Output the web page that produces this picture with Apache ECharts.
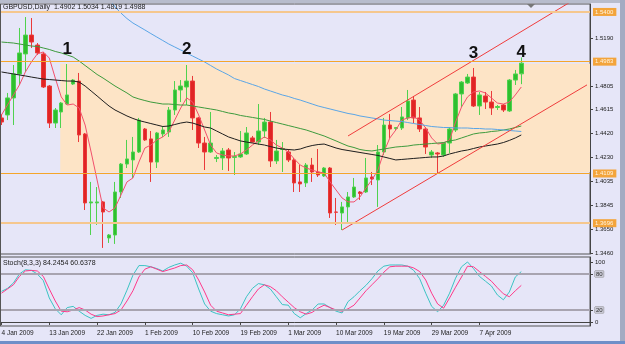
<!DOCTYPE html>
<html>
<head>
<meta charset="utf-8">
<script src="https://cdn.jsdelivr.net/npm/echarts@6/dist/echarts.min.js"></script>
<style>
html, body { margin: 0; padding: 0; background: #e6e6f8; }
#chart { width: 625px; height: 344px; }
</style>
</head>
<body>
<div id="chart"></div>
<script>
// GBPUSD daily, 4 Jan - 15 Apr 2009
var dates = ['4 Jan 2009','5 Jan 2009','6 Jan 2009','7 Jan 2009','8 Jan 2009','9 Jan 2009','11 Jan 2009','12 Jan 2009',
  '13 Jan 2009','14 Jan 2009','15 Jan 2009','16 Jan 2009','18 Jan 2009','19 Jan 2009','20 Jan 2009','21 Jan 2009',
  '22 Jan 2009','23 Jan 2009','25 Jan 2009','26 Jan 2009','27 Jan 2009','28 Jan 2009','29 Jan 2009','30 Jan 2009',
  '1 Feb 2009','2 Feb 2009','3 Feb 2009','4 Feb 2009','5 Feb 2009','6 Feb 2009','8 Feb 2009','9 Feb 2009',
  '10 Feb 2009','11 Feb 2009','12 Feb 2009','13 Feb 2009','15 Feb 2009','16 Feb 2009','17 Feb 2009','18 Feb 2009',
  '19 Feb 2009','20 Feb 2009','22 Feb 2009','23 Feb 2009','24 Feb 2009','25 Feb 2009','26 Feb 2009','27 Feb 2009',
  '1 Mar 2009','2 Mar 2009','3 Mar 2009','4 Mar 2009','5 Mar 2009','6 Mar 2009','8 Mar 2009','9 Mar 2009',
  '10 Mar 2009','11 Mar 2009','12 Mar 2009','13 Mar 2009','15 Mar 2009','16 Mar 2009','17 Mar 2009','18 Mar 2009',
  '19 Mar 2009','20 Mar 2009','22 Mar 2009','23 Mar 2009','24 Mar 2009','25 Mar 2009','26 Mar 2009','27 Mar 2009',
  '29 Mar 2009','30 Mar 2009','31 Mar 2009','1 Apr 2009','2 Apr 2009','3 Apr 2009','5 Apr 2009','6 Apr 2009',
  '7 Apr 2009','8 Apr 2009','9 Apr 2009','10 Apr 2009','12 Apr 2009','13 Apr 2009','14 Apr 2009','15 Apr 2009'];

var opens = [1.4547,1.4571,1.4708,1.4901,1.5062,1.5214,1.5134,1.5062,1.4804,1.4506,
  1.4595,1.4659,1.4820,1.4844,1.4418,1.3863,1.3863,1.3871,1.3581,1.3605,
  1.3951,1.4176,1.4209,1.4273,1.4458,1.4378,1.4192,1.4418,1.4434,1.4611,
  1.4772,1.4796,1.4844,1.4547,1.4345,1.4273,1.4221,1.4225,1.4289,1.4229,
  1.4233,1.4257,1.4386,1.4353,1.4442,1.4514,1.4201,1.4293,1.4273,1.4209,
  1.4032,1.4024,1.4168,1.4112,1.4080,1.4144,1.3790,1.3782,1.3831,1.3911,
  1.3951,1.3951,1.4072,1.4048,1.4273,1.4490,1.4462,1.4466,1.4547,1.4691,
  1.4547,1.4458,1.4249,1.4265,1.4249,1.4345,1.4450,1.4740,1.4828,1.4876,
  1.4643,1.4724,1.4675,1.4631,1.4651,1.4603,1.4852,1.4902];
var highs = [1.4579,1.4748,1.4973,1.5271,1.5359,1.5351,1.5150,1.5078,1.4812,1.4627,
  1.4675,1.4981,1.4860,1.4909,1.4426,1.4032,1.3991,1.3879,1.3613,1.4032,
  1.4184,1.4370,1.4394,1.4547,1.4466,1.4442,1.4434,1.4482,1.4635,1.4844,
  1.4852,1.4973,1.4885,1.4555,1.4394,1.4595,1.4249,1.4305,1.4305,1.4273,
  1.4442,1.4474,1.4402,1.4659,1.4547,1.4595,1.4370,1.4353,1.4297,1.4225,
  1.4168,1.4184,1.4225,1.4297,1.4152,1.4152,1.3903,1.3871,1.3951,1.4064,
  1.3959,1.4225,1.4112,1.4329,1.4547,1.4579,1.4474,1.4635,1.4772,1.4724,
  1.4635,1.4474,1.4289,1.4273,1.4353,1.4474,1.4748,1.4844,1.4901,1.4949,
  1.4756,1.4756,1.4764,1.4651,1.4659,1.4860,1.4933,1.5034];
var lows = [1.4490,1.4530,1.4490,1.4812,1.4917,1.5110,1.5054,1.4788,1.4466,1.4466,
  1.4466,1.4651,1.4812,1.4353,1.3806,1.3605,1.3686,1.3501,1.3541,1.3533,
  1.3903,1.4144,1.4064,1.4265,1.4362,1.4032,1.4144,1.4394,1.4394,1.4571,
  1.4675,1.4651,1.4450,1.4305,1.4128,1.4265,1.4192,1.4128,1.4120,1.4088,
  1.4225,1.4249,1.4349,1.4329,1.4386,1.4152,1.4176,1.4112,1.4192,1.3951,
  1.3951,1.3991,1.4032,1.4072,1.4072,1.3742,1.3686,1.3645,1.3702,1.3903,
  1.3887,1.3943,1.4007,1.3831,1.4249,1.4386,1.4450,1.4450,1.4530,1.4506,
  1.4434,1.4257,1.4225,1.4104,1.4233,1.4265,1.4434,1.4635,1.4820,1.4635,
  1.4571,1.4619,1.4571,1.4611,1.4595,1.4595,1.4812,1.4819];
var closes = [1.4514,1.4708,1.4901,1.5070,1.5214,1.5158,1.5070,1.4796,1.4506,1.4611,
  1.4667,1.4732,1.4852,1.4410,1.3863,1.3871,1.3871,1.3790,1.3605,1.3951,
  1.4176,1.4217,1.4273,1.4530,1.4370,1.4192,1.4426,1.4450,1.4611,1.4772,
  1.4804,1.4844,1.4547,1.4345,1.4273,1.4345,1.4229,1.4281,1.4225,1.4237,
  1.4257,1.4426,1.4353,1.4442,1.4514,1.4201,1.4281,1.4301,1.4209,1.4024,
  1.4016,1.4168,1.4112,1.4088,1.4144,1.3782,1.3788,1.3831,1.3911,1.3991,
  1.3939,1.4064,1.4056,1.4273,1.4490,1.4458,1.4470,1.4555,1.4683,1.4547,
  1.4458,1.4313,1.4273,1.4257,1.4345,1.4458,1.4740,1.4836,1.4876,1.4643,
  1.4732,1.4675,1.4627,1.4639,1.4611,1.4852,1.4901,1.4988];

// moving averages as drawn on the chart
var maFast = [1.4571,1.4651,1.4732,1.4812,1.4917,1.4997,1.5062,1.5078,1.5029,1.4868,
  1.4716,1.4651,1.4659,1.4627,1.4490,1.4273,1.4048,1.3823,1.3790,1.3823,
  1.3927,1.4032,1.4064,1.4192,1.4305,1.4329,1.4370,1.4394,1.4434,1.4530,
  1.4627,1.4708,1.4675,1.4571,1.4450,1.4329,1.4265,1.4249,1.4241,1.4241,
  1.4257,1.4289,1.4329,1.4362,1.4394,1.4370,1.4329,1.4305,1.4273,1.4217,
  1.4168,1.4144,1.4128,1.4112,1.4104,1.4032,1.3967,1.3903,1.3871,1.3871,
  1.3911,1.3983,1.4048,1.4128,1.4273,1.4386,1.4450,1.4530,1.4547,1.4555,
  1.4530,1.4466,1.4386,1.4337,1.4345,1.4370,1.4514,1.4635,1.4716,1.4756,
  1.4764,1.4748,1.4708,1.4667,1.4659,1.4675,1.4732,1.4796];
var maMid = [1.5158,1.5154,1.5150,1.5142,1.5134,1.5126,1.5122,1.5110,1.5098,1.5082,
  1.5070,1.5054,1.5037,1.5005,1.4969,1.4933,1.4897,1.4868,1.4836,1.4804,
  1.4776,1.4748,1.4716,1.4700,1.4687,1.4675,1.4667,1.4659,1.4659,1.4655,
  1.4651,1.4651,1.4643,1.4635,1.4627,1.4619,1.4611,1.4599,1.4587,1.4579,
  1.4567,1.4559,1.4551,1.4543,1.4535,1.4522,1.4510,1.4498,1.4486,1.4474,
  1.4462,1.4450,1.4434,1.4418,1.4402,1.4382,1.4362,1.4341,1.4321,1.4309,
  1.4293,1.4285,1.4281,1.4289,1.4297,1.4305,1.4313,1.4317,1.4321,1.4329,
  1.4333,1.4337,1.4341,1.4345,1.4349,1.4362,1.4370,1.4386,1.4402,1.4418,
  1.4426,1.4430,1.4438,1.4442,1.4450,1.4458,1.4470,1.4482];
var maSlow = [1.4917,1.4909,1.4901,1.4893,1.4885,1.4876,1.4868,1.4860,1.4856,1.4852,
  1.4848,1.4844,1.4844,1.4836,1.4804,1.4764,1.4724,1.4683,1.4643,1.4611,
  1.4587,1.4563,1.4543,1.4526,1.4514,1.4502,1.4490,1.4478,1.4482,1.4494,
  1.4506,1.4514,1.4506,1.4490,1.4474,1.4466,1.4442,1.4418,1.4394,1.4378,
  1.4362,1.4353,1.4345,1.4337,1.4329,1.4317,1.4305,1.4297,1.4293,1.4289,
  1.4297,1.4313,1.4325,1.4333,1.4337,1.4321,1.4305,1.4293,1.4285,1.4277,
  1.4269,1.4261,1.4253,1.4245,1.4233,1.4221,1.4209,1.4213,1.4217,1.4221,
  1.4225,1.4229,1.4233,1.4233,1.4241,1.4257,1.4269,1.4281,1.4289,1.4301,
  1.4313,1.4321,1.4329,1.4337,1.4349,1.4366,1.4386,1.4410];
var maLong = [null,null,null,null,null,null,null,null,null,null,
  null,null,null,null,null,null,null,1.5544,1.5504,1.5440,
  1.5391,1.5347,1.5311,1.5283,1.5255,1.5226,1.5198,1.5170,1.5142,1.5118,
  1.5094,1.5070,1.5045,1.5021,1.4997,1.4969,1.4941,1.4917,1.4893,1.4864,
  1.4848,1.4832,1.4816,1.4800,1.4780,1.4764,1.4748,1.4732,1.4720,1.4704,
  1.4691,1.4675,1.4659,1.4643,1.4631,1.4619,1.4607,1.4595,1.4583,1.4575,
  1.4563,1.4555,1.4547,1.4539,1.4530,1.4526,1.4522,1.4518,1.4510,1.4502,
  1.4494,1.4486,1.4478,1.4474,1.4470,1.4470,1.4466,1.4466,1.4466,1.4462,
  1.4462,1.4458,1.4458,1.4454,1.4450,1.4446,1.4442,1.4438];

// Stochastic(8,3,3)
var stochK = [51,56,65,80,87,86,80,69,40,22, 12,24,26,18,11,6,11,13,12,16,
  30,53,78,94,94,92,89,85,91,95, 98,93,82,55,30,18,14,12,10,12,
  22,42,56,64,62,55,42,29,28,14, 7,14,20,30,30,24,18,15,34,42,
  52,61,72,85,93,95,95,95,93,86, 72,48,26,17,28,48,73,92,100,89,
  76,68,60,45,37,50,75,84];
var stochD = [48,55,62,76,85,86,85,76,55,35, 18,17,20,24,20,13,9,10,12,14,
  20,35,52,75,88,92,88,84,87,90, 94,95,87,70,50,28,18,15,12,13,
  14,28,42,55,62,59,52,42,33,24, 17,13,16,23,28,24,20,18,22,28,
  40,52,62,72,83,92,93,93,93,90, 84,70,48,30,23,40,58,75,93,92,
  84,76,68,57,47,42,52,61];

var priceTicks = [1.5190, 1.4805, 1.4615, 1.4420, 1.4230, 1.4035, 1.3845, 1.3650, 1.3460];
var stochTicks = [0, 20, 80, 100];
var stochLevels = [20, 80];
var majorLevels = [1.5400, 1.3696];
var zoneLevels = [1.4983, 1.4109];
var zoneStart = 10;
var channelUpper = [[58, 1.4402], [96, 1.5503]];
var channelLower = [[57, 1.3645], [98, 1.4813]];
var waveLabels = [['1', 11, 1.5102], ['2', 31, 1.5102], ['3', 79, 1.5070], ['4', 87, 1.5078]];

var N = 99; // bars + empty space on the right
var cats = dates.slice();
while (cats.length < N) cats.push('');

function sparse(points) {
  var r = [];
  for (var i = 0; i < N; i++) r.push(null);
  points.forEach(function (p) { r[p[0]] = p[1]; });
  return r;
}

var candles = opens.map(function (o, i) { return [o, closes[i], lows[i], highs[i]]; });
var last = opens.length - 1;

var font = '"Liberation Sans", Arial, sans-serif';
var levelLabel = {
  show: true, position: 'end', distance: 3,
  formatter: '{b}',
  backgroundColor: '#f3a43b', color: '#fff4e0', fontSize: 6, fontFamily: font,
  padding: [1, 3, 1, 2]
};

var chart = echarts.init(document.getElementById('chart'));
var option = {
  backgroundColor: '#e6e6f8',
  animation: false,
  grid: [
    { left: -1.5, top: 4, width: 591.5, height: 250, show: true, borderColor: '#555', borderWidth: 1, containLabel: false, outerBoundsMode: 'none' },
    { left: -1.5, top: 257, width: 591.5, height: 69, show: true, borderColor: '#555', borderWidth: 1, containLabel: false, outerBoundsMode: 'none' }
  ],
  xAxis: [
    { type: 'category', gridIndex: 0, data: cats, boundaryGap: true,
      axisLine: { show: false }, axisTick: { show: false }, axisLabel: { show: false }, splitLine: { show: false } },
    { type: 'category', gridIndex: 1, data: cats, boundaryGap: true,
      axisLine: { show: true, lineStyle: { color: '#444' } },
      axisTick: { show: true, length: 3, alignWithLabel: true, lineStyle: { color: '#444' },
        interval: function (i) { return i % 8 === 0 && i < dates.length; } },
      axisLabel: { show: true, align: 'left', margin: 4, fontSize: 6.5, fontFamily: font, color: '#1a1a1a',
        interval: function (i) { return i % 8 === 0 && i < dates.length; } },
      splitLine: { show: false } }
  ],
  yAxis: [
    { type: 'value', gridIndex: 0, position: 'right', min: 1.3452, max: 1.5464, scale: true,
      splitLine: { show: false },
      axisLine: { show: true, lineStyle: { color: '#444' } },
      axisTick: { show: true, length: 3, lineStyle: { color: '#444' }, customValues: priceTicks },
      axisLabel: { show: true, customValues: priceTicks, margin: 5, fontSize: 6, fontFamily: font, color: '#1a1a1a',
        formatter: function (v) { return v.toFixed(4); } } },
    { type: 'value', gridIndex: 1, position: 'right', min: -6.7, max: 108.3,
      splitLine: { show: false },
      axisLine: { show: true, lineStyle: { color: '#444' } },
      axisTick: { show: true, length: 3, lineStyle: { color: '#444' }, customValues: stochTicks },
      axisLabel: { show: true, customValues: stochTicks, margin: 5, fontSize: 6, fontFamily: font, color: '#1a1a1a',
        formatter: function (v) { return (v === 20 || v === 80) ? '{box|' + v + '}' : String(v); },
        rich: { box: { fontSize: 6, fontFamily: font, color: '#333', backgroundColor: '#c8c8d4', borderColor: '#888', borderWidth: 0.5, padding: [0, 1] } } } }
  ],
  series: [
    {
      type: 'candlestick', name: 'GBPUSD', xAxisIndex: 0, yAxisIndex: 0, data: candles, barWidth: 4,
      itemStyle: { color: '#2fbf2f', color0: '#e02424', borderColor: '#4fd24f', borderColor0: '#ea3a3a', borderWidth: 1 },
      markLine: {
        silent: true, symbol: 'none', animation: false,
        data: majorLevels.map(function (v) {
          return { name: v.toFixed(4), yAxis: v, lineStyle: { color: '#f5c78e', width: 2, type: 'solid' }, label: levelLabel };
        }).concat(zoneLevels.map(function (v) {
          return { name: v.toFixed(4), yAxis: v, lineStyle: { color: '#f5a52a', width: 1, type: 'solid' }, label: levelLabel };
        }))
      },
      markPoint: {
        silent: true, symbol: 'circle', symbolSize: 0, animation: false,
        label: { show: true, position: 'inside', color: '#111', fontSize: 17, fontWeight: 'bold', fontFamily: font,
          formatter: function (p) { return p.name; } },
        data: waveLabels.map(function (w) { return { name: w[0], coord: [w[1], w[2]] }; })
      }
    },
    { type: 'line', name: 'MA fast', xAxisIndex: 0, yAxisIndex: 0, data: maFast, symbol: 'none', z: 3,
      lineStyle: { color: '#f2506c', width: 1 } },
    { type: 'line', name: 'MA mid', xAxisIndex: 0, yAxisIndex: 0, data: maMid, symbol: 'none', z: 3,
      lineStyle: { color: '#3d9b3d', width: 1 } },
    { type: 'line', name: 'MA slow', xAxisIndex: 0, yAxisIndex: 0, data: maSlow, symbol: 'none', z: 3,
      lineStyle: { color: '#1e1e1e', width: 1 } },
    { type: 'line', name: 'MA long', xAxisIndex: 0, yAxisIndex: 0, data: maLong, symbol: 'none', z: 3,
      lineStyle: { color: '#5aa5e6', width: 1 } },
    { type: 'line', name: 'channel up', xAxisIndex: 0, yAxisIndex: 0, data: sparse(channelUpper), connectNulls: true,
      symbol: 'none', z: 4, lineStyle: { color: '#f03c3c', width: 1 } },
    { type: 'line', name: 'channel low', xAxisIndex: 0, yAxisIndex: 0, data: sparse(channelLower), connectNulls: true,
      symbol: 'none', z: 4, lineStyle: { color: '#f03c3c', width: 1 } },
    { type: 'line', name: '%K', xAxisIndex: 1, yAxisIndex: 1, data: stochK, symbol: 'none',
      lineStyle: { color: '#3cc4c4', width: 1 },
      markLine: { silent: true, symbol: 'none', label: { show: false },
        lineStyle: { color: '#a8a4b0', width: 2, type: 'solid' },
        data: stochLevels.map(function (v) { return { yAxis: v }; }) } },
    { type: 'line', name: '%D', xAxisIndex: 1, yAxisIndex: 1, data: stochD, symbol: 'none',
      lineStyle: { color: '#ff3a8a', width: 1 } }
  ]
};
chart.setOption(option);

// peach zone between the two orange levels, placed through the axes
var x0 = chart.convertToPixel({ xAxisIndex: 0 }, zoneStart);
var band = chart.convertToPixel({ xAxisIndex: 0 }, 1) - chart.convertToPixel({ xAxisIndex: 0 }, 0);
var x1 = chart.convertToPixel({ xAxisIndex: 0 }, N - 1) + band / 2;
var y0 = chart.convertToPixel({ yAxisIndex: 0 }, zoneLevels[0]);
var y1 = chart.convertToPixel({ yAxisIndex: 0 }, zoneLevels[1]);

var title = 'GBPUSD,Daily  ' + opens[last].toFixed(4) + ' ' + highs[last].toFixed(4) + ' ' +
  lows[last].toFixed(4) + ' ' + closes[last].toFixed(4);

chart.setOption({
  graphic: [
    { type: 'rect', z: 0, silent: true, shape: { x: x0 - 1, y: y0, width: x1 - x0 + 1, height: y1 - y0 },
      style: { fill: '#fde4c6' } },
    { type: 'text', z: 10, left: 3, top: 4, silent: true,
      style: { text: title, fill: '#202020', font: '7px ' + font } },
    { type: 'text', z: 10, left: 3, top: 260, silent: true,
      style: { text: 'Stoch(8,3,3) 84.2454 60.6378', fill: '#202020', font: '7px ' + font } },
    { type: 'polygon', z: 10, silent: true, shape: { points: [[527, 4], [535, 4], [531, 8]] }, style: { fill: '#777' } },
    { type: 'line', z: 10, silent: true, shape: { x1: 0.5, y1: 4, x2: 0.5, y2: 326 }, style: { stroke: '#555', lineWidth: 1 } },
    { type: 'rect', z: 10, silent: true, shape: { x: 0, y: 0, width: 625, height: 3 }, style: { fill: '#b8bccc' } },
    { type: 'rect', z: 10, silent: true, shape: { x: 620, y: 0, width: 5, height: 344 }, style: { fill: '#a3abc2' } },
    { type: 'rect', z: 10, silent: true, shape: { x: 0, y: 341, width: 625, height: 3 }, style: { fill: '#6f8fc8' } }
  ]
});
</script>
</body>
</html>
